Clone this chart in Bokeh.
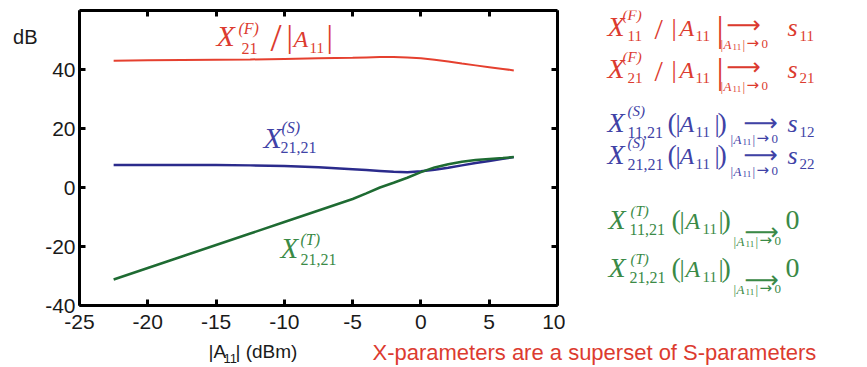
from bokeh.plotting import figure
from bokeh.layouts import row, column
from bokeh.models import Range1d, LinearAxis, FixedTicker, Label, CustomJSTickFormatter
from bokeh.embed import file_html
from bokeh.resources import INLINE

# ---------------- data ----------------
a11_dbm = [-22.5, -20, -17.5, -15, -12.5, -10, -7.5, -5, -4, -3, -2, -1, 0, 1, 2, 3, 4, 5, 6, 6.8]
x21f_over_a11 = [43.0, 43.1, 43.2, 43.3, 43.4, 43.6, 43.8, 44.0, 44.1, 44.2, 44.2, 44.1, 43.8, 43.3,
                 42.7, 42.0, 41.4, 40.8, 40.2, 39.7]
x2121_s = [7.6, 7.6, 7.6, 7.6, 7.5, 7.3, 6.9, 6.2, 5.9, 5.6, 5.3, 5.2, 5.5, 6.0, 6.7, 7.5, 8.3, 9.0,
           9.7, 10.3]
x2121_t = [-31.2, -27.3, -23.4, -19.5, -15.6, -11.7, -7.8, -3.9, -2.0, 0.0, 1.6, 3.3, 5.2, 6.8, 7.9,
           8.7, 9.3, 9.7, 10.0, 10.3]
x_ticks = [-25, -20, -15, -10, -5, 0, 5, 10]
y_ticks = [-40, -20, 0, 20, 40]
y_unit = "dB"
x_unit_parts = ["|A", "11", "| (dBm)"]
caption = "X-parameters are a superset of S-parameters"

RED_LINE, BLUE_LINE, GREEN_LINE = "#e5402f", "#2b2b8c", "#1e6b32"
RED, BLUE, GREEN = "#dc3b2f", "#4042a6", "#3a8a46"
INK = "#1a1a1a"

W, H = 867, 367
MAIN_H = 340
FRAME_L, FRAME_T, FRAME_W, FRAME_H = 79, 10, 478, 295
MAIN_W = FRAME_L + FRAME_W + 8
MID = 0.34   # labels are anchored at their vertical middle: shift baseline -> middle


def panel(x0, x1, y0, y1):
    f = figure(width=x1 - x0, height=y1 - y0, x_range=Range1d(x0, x1), y_range=Range1d(y1, y0),
               output_backend="svg", toolbar_location=None, title=None,
               x_axis_location=None, y_axis_location=None,
               min_border=0, min_border_left=0, min_border_right=0,
               min_border_top=0, min_border_bottom=0)
    f.grid.visible = False
    f.outline_line_color = None
    f.border_fill_color = "white"
    f.background_fill_color = "white"
    return f


p = figure(width=MAIN_W, height=MAIN_H, title=None,
           x_range=Range1d(-25, 10), y_range=Range1d(-40, 60),
           output_backend="svg", toolbar_location=None,
           min_border_left=FRAME_L, min_border_right=MAIN_W - FRAME_L - FRAME_W,
           min_border_top=FRAME_T, min_border_bottom=MAIN_H - FRAME_T - FRAME_H)
p.grid.visible = False
p.outline_line_color = None
p.background_fill_color = "white"
p.border_fill_color = "white"

p.line(a11_dbm, x21f_over_a11, line_color=RED_LINE, line_width=2)
p.line(a11_dbm, x2121_s, line_color=BLUE_LINE, line_width=2.5)
p.line(a11_dbm, x2121_t, line_color=GREEN_LINE, line_width=2.5)

fmt = CustomJSTickFormatter(code="return tick.toFixed(0)")
p.xaxis.ticker = FixedTicker(ticks=x_ticks)
p.yaxis.ticker = FixedTicker(ticks=y_ticks)
p.xaxis.formatter = fmt
p.yaxis.formatter = fmt
p.add_layout(LinearAxis(ticker=FixedTicker(ticks=x_ticks),
                        formatter=CustomJSTickFormatter(code="return ''")), "above")
p.add_layout(LinearAxis(ticker=FixedTicker(ticks=y_ticks),
                        formatter=CustomJSTickFormatter(code="return ''")), "right")
for ax in p.axis:
    ax.axis_line_width = 3
    ax.axis_line_color = "black"
    ax.major_tick_line_width = 3
    ax.major_tick_in = 6
    ax.major_tick_out = 0
    ax.minor_tick_line_color = None
    ax.major_label_text_font = "Liberation Sans"
    ax.major_label_text_font_size = "21px"
    ax.major_label_text_color = INK
p.below[0].major_label_standoff = 9
p.left[0].major_label_standoff = 4
for ax in (p.above[0], p.right[0]):
    ax.major_label_standoff = 0
    ax.major_label_text_font_size = "1px"

# unit "dB" shown as the single label of an outer, line-less left axis
unit_ax = LinearAxis(ticker=FixedTicker(ticks=[51]), major_label_overrides={51: y_unit},
                     axis_line_color=None, major_tick_line_color=None,
                     minor_tick_line_color=None, major_tick_in=0, major_tick_out=0,
                     major_label_standoff=5, major_label_text_font="Liberation Sans",
                     major_label_text_font_size="20px", major_label_text_color=INK)
p.add_layout(unit_ax, "left")

# the right panel's frame is aligned with the chart frame (rows align plot frames)
right = panel(MAIN_W, W, FRAME_T, FRAME_T + FRAME_H)
right.height = MAIN_H
bottom = panel(0, W, MAIN_H, H)


def put(fig, txt, px, py, size, color, italic=False, font="Liberation Serif"):
    pyc = py - MID * size
    if fig is p:
        x = -25 + (px - FRAME_L) * 35 / FRAME_W
        y = 60 - (pyc - FRAME_T) * 100 / FRAME_H
    else:
        x, y = px, pyc
    fig.add_layout(Label(x=x, y=y, text=txt, text_font=font, text_font_size=f"{size}px",
                         text_color=color, text_font_style="italic" if italic else "normal",
                         text_baseline="alphabetic", text_align="left"))


def R(*a, **k):
    put(right, *a, **k)


def under(px, py, color):
    R("|", px, py, 13, color)
    R("A", px + 3, py, 13, color, True)
    R("11", px + 12, py + 2, 9, color)
    R("|", px + 22, py, 13, color)
    R("\u2192", px + 26, py, 15, color, font="DejaVu Sans")
    R("0", px + 41, py, 13, color)


def arrow(px, py, color):
    R("\u27f6", px, py, 24, color, font="DejaVu Sans")


def fline(px, py, sub, color):
    R("X", px, py, 28, color, True)
    R("(F)", px + 15, py - 16, 15, color, True)
    R(sub, px + 20, py + 5, 15, color)
    R("/", px + 47, py + 2, 30, color)
    R("|", px + 64, py, 26, color)
    R("A", px + 72, py, 24, color, True)
    R("11", px + 88, py + 5, 15, color)
    R("|", px + 109, py + 5, 36, color)
    arrow(px + 119, py - 3, color)
    under(px + 113, py + 12, color)
    R("s", px + 180, py, 26, color, True)
    R(sub, px + 192, py + 5, 15, color)


def sline(px, py, sub, ssub, color):
    R("X", px, py, 28, color, True)
    R("(S)", px + 20, py - 16, 15, color, True)
    R(sub, px + 20, py + 5, 16, color)
    R("(", px + 60, py, 28, color)
    R("|", px + 68, py, 26, color)
    R("A", px + 72, py, 24, color, True)
    R("11", px + 88, py + 5, 15, color)
    R("|", px + 107, py, 26, color)
    R(")", px + 110, py, 28, color)
    arrow(px + 136, py - 1, color)
    under(px + 123, py + 11, color)
    R("s", px + 180, py, 26, color, True)
    R(ssub, px + 192, py + 5, 15, color)


def tline(px, py, sub, color):
    R("X", px, py, 28, color, True)
    R("(T)", px + 22, py - 13, 15, color, True)
    R(sub, px + 21, py + 5, 16, color)
    R("(", px + 63, py, 28, color)
    R("|", px + 71, py, 26, color)
    R("A", px + 77, py, 24, color, True)
    R("11", px + 94, py + 5, 15, color)
    R("|", px + 110, py, 26, color)
    R(")", px + 113, py, 28, color)
    arrow(px + 136, py + 11, color)
    under(px + 125, py + 16, color)
    R("0", px + 177, py, 28, color)


# in-plot curve labels
put(p, "X", 216, 45, 30, RED, True)
put(p, "(F)", 238, 33, 16, RED, True)
put(p, "21", 241, 53, 16, RED)
put(p, "/", 270, 51, 40, RED)
put(p, "|", 286, 46, 32, RED)
put(p, "A", 293, 47, 24, RED, True)
put(p, "11", 309, 53, 15, RED)
put(p, "|", 326, 46, 32, RED)

put(p, "X", 263, 147, 30, BLUE, True)
put(p, "(S)", 281, 132, 16, BLUE, True)
put(p, "21,21", 280, 152, 16, BLUE)

put(p, "X", 280, 257, 29, GREEN, True)
put(p, "(T)", 300, 244, 16, GREEN, True)
put(p, "21,21", 300, 264, 16, GREEN)

# right-hand formulas
fline(607, 36, "11", RED)
fline(607, 78, "21", RED)
sline(607, 132, "11,21", "12", BLUE)
sline(607, 164, "21,21", "22", BLUE)
tline(608, 229, "11,21", GREEN)
tline(608, 277, "21,21", GREEN)

# x-axis title and caption
put(bottom, x_unit_parts[0], 208, 357, 19, INK, font="Liberation Sans")
put(bottom, x_unit_parts[1], 223, 362, 13, INK, font="Liberation Sans")
put(bottom, x_unit_parts[2], 235, 357, 19, INK, font="Liberation Sans")
put(bottom, caption, 372, 359, 22, RED, font="Liberation Sans")

layout = column(row(p, right), bottom)
open("out.html", "w").write(file_html(layout, INLINE))
